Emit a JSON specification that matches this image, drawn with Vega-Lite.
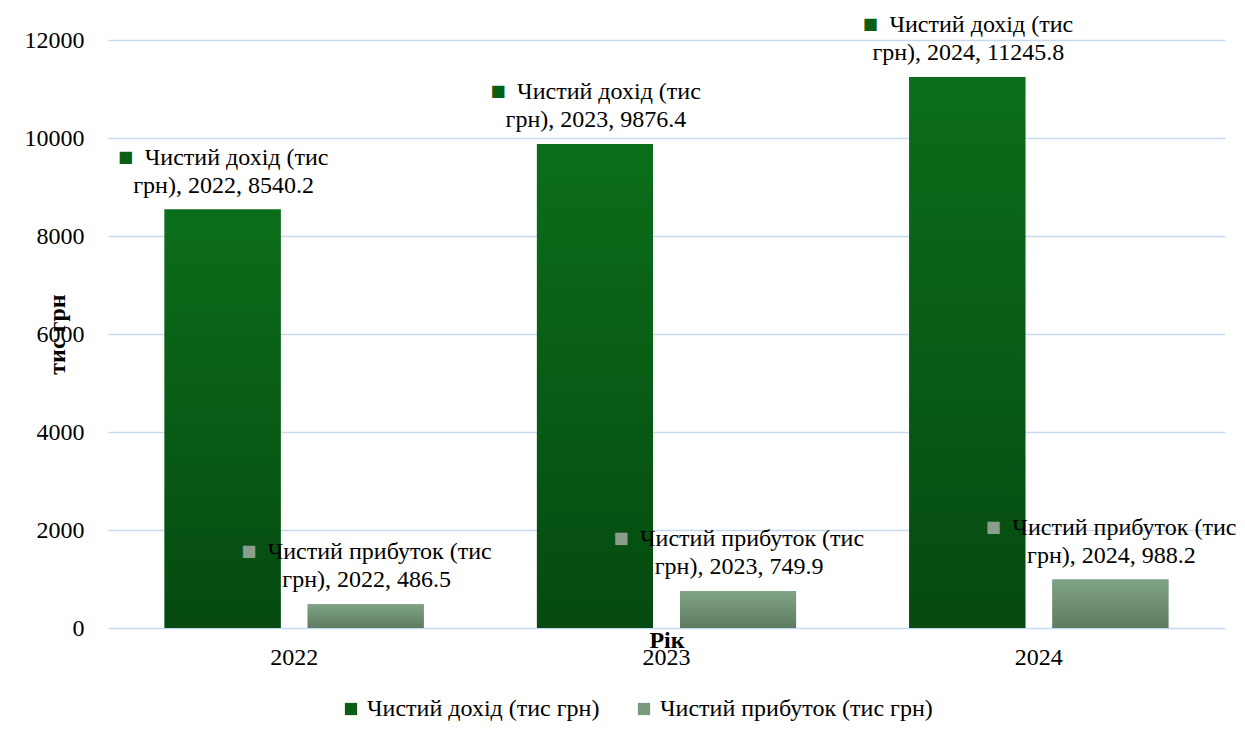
{
  "$schema": "https://vega.github.io/schema/vega-lite/v6.json",
  "autosize": {"type": "none"},
  "width": 1117,
  "height": 588,
  "padding": {"left": 108, "top": 40, "right": 20, "bottom": 110},
  "background": "white",
  "config": {
    "font": "Times New Roman",
    "view": {"stroke": null},
    "axis": {"labelFont": "Times New Roman", "titleFont": "Times New Roman", "labelColor": "#000000", "titleColor": "#000000"},
    "legend": {"labelFont": "Times New Roman"},
    "text": {"font": "Times New Roman"}
  },
  "data": {
    "values": [
      {"year": "2022", "series": "Чистий дохід (тис грн)", "value": 8540.2},
      {"year": "2022", "series": "Чистий прибуток (тис грн)", "value": 486.5},
      {"year": "2023", "series": "Чистий дохід (тис грн)", "value": 9876.4},
      {"year": "2023", "series": "Чистий прибуток (тис грн)", "value": 749.9},
      {"year": "2024", "series": "Чистий дохід (тис грн)", "value": 11245.8},
      {"year": "2024", "series": "Чистий прибуток (тис грн)", "value": 988.2}
    ]
  },
  "transform": [
    {"calculate": "replace(datum.series, ' грн)', '')", "as": "l1"},
    {"calculate": "'грн), ' + datum.year + ', ' + datum.value", "as": "l2"}
  ],
  "encoding": {
    "x": {
      "field": "year", "type": "nominal",
      "scale": {"paddingInner": 0.304, "paddingOuter": 0.152},
      "axis": {
        "title": "Рік", "titleFontSize": 24, "titleFontWeight": "bold",
        "titleY": 0, "titleBaseline": "top",
        "labelAngle": 0, "labelFontSize": 24, "labelPadding": 17,
        "ticks": false, "domain": false
      }
    },
    "xOffset": {
      "field": "series", "type": "nominal",
      "scale": {"paddingInner": 0.189, "paddingOuter": 0}
    },
    "y": {
      "field": "value", "type": "quantitative",
      "scale": {"domain": [0, 12000], "nice": false},
      "axis": {
        "title": "тис грн", "titleFontSize": 24, "titleFontWeight": "bold",
        "titleX": -51, "titleBaseline": "middle",
        "values": [0, 2000, 4000, 6000, 8000, 10000, 12000], "format": "d",
        "labelFontSize": 24, "labelPadding": 24,
        "ticks": false, "domain": false,
        "gridColor": "#c6d9f0", "gridWidth": 1.5
      }
    }
  },
  "layer": [
    {
      "mark": {"type": "bar"},
      "encoding": {
        "color": {
          "field": "series", "type": "nominal",
          "scale": {"range": ["#0a5e15", "#7a9a7d"]},
          "legend": {
            "title": null, "orient": "none", "legendX": 231, "legendY": 657, "direction": "horizontal",
            "symbolType": "square", "symbolSize": 150, "symbolStrokeWidth": 0,
            "labelFont": "Times New Roman", "labelFontSize": 24, "labelColor": "#000000",
            "labelOffset": 4, "columnPadding": 32, "labelLimit": 400
          }
        }
      }
    },
    {
      "transform": [{"filter": "datum.series == 'Чистий дохід (тис грн)'"}],
      "mark": {
        "type": "bar",
        "color": {
          "gradient": "linear", "x1": 0, "y1": 0, "x2": 0, "y2": 1,
          "stops": [{"offset": 0, "color": "#0b6e1a"}, {"offset": 1, "color": "#054a10"}]
        }
      }
    },
    {
      "transform": [{"filter": "datum.series == 'Чистий прибуток (тис грн)'"}],
      "mark": {
        "type": "bar",
        "color": {
          "gradient": "linear", "x1": 0, "y1": 0, "x2": 0, "y2": 1,
          "stops": [{"offset": 0, "color": "#80a385"}, {"offset": 1, "color": "#5d7b61"}]
        }
      }
    },
    {
      "mark": {"type": "text", "align": "center", "baseline": "middle", "dx": 14, "dy": -52, "fontSize": 24, "font": "Times New Roman", "color": "#000000"},
      "encoding": {"text": {"field": "l1"}}
    },
    {
      "mark": {"type": "text", "align": "center", "baseline": "middle", "dx": 1, "dy": -24, "fontSize": 24, "font": "Times New Roman", "color": "#000000"},
      "encoding": {"text": {"field": "l2"}}
    },
    {
      "transform": [{"filter": "datum.series == 'Чистий дохід (тис грн)'"}],
      "mark": {"type": "text", "text": "■", "align": "center", "baseline": "middle", "fontSize": 16, "font": "DejaVu Sans", "dx": -97, "dy": -53, "color": "#0a5e15"}
    },
    {
      "transform": [{"filter": "datum.series == 'Чистий прибуток (тис грн)'"}],
      "mark": {"type": "text", "text": "■", "align": "center", "baseline": "middle", "fontSize": 16, "font": "DejaVu Sans", "dx": -117, "dy": -53, "color": "#8a9e8b"}
    }
  ]
}
